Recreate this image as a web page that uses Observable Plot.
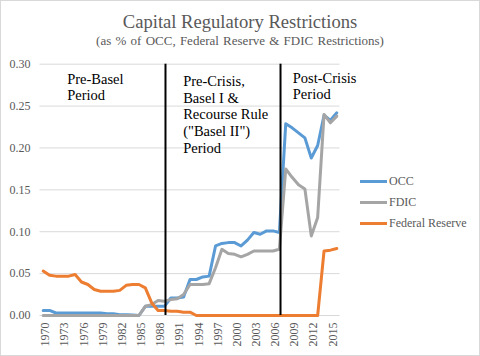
<!DOCTYPE html>
<html>
<head>
<meta charset="utf-8">
<script src="https://cdn.jsdelivr.net/npm/d3@7"></script>
<script src="https://cdn.jsdelivr.net/npm/@observablehq/plot@0.6"></script>
<style>
  body { margin: 0; background: #fff; }
  #wrap { position: relative; width: 480px; height: 356px; overflow: hidden; background: #fff;
          font-family: "Liberation Serif", "Times New Roman", serif; color: #595959; }
  #border { position: absolute; left: 0; top: 0; width: 480px; height: 356px; box-sizing: border-box;
            border: 1px solid #d9d9d9; pointer-events: none; }
  .ttl { position: absolute; left: 0; width: 480px; text-align: center; line-height: 1; white-space: nowrap; }
  #title { top: 12.7px; font-size: 18.6px; }
  #subtitle { top: 34.1px; font-size: 13px; word-spacing: 1px; }
  #chart { position: absolute; left: 0; top: 0; }
  .leg { position: absolute; left: 360px; height: 12px; }
  .leg .sw { position: absolute; left: 0; top: 4.5px; width: 27px; height: 3px; }
  .leg .lb { position: absolute; left: 29px; top: 0; font-size: 12px; line-height: 12px; white-space: nowrap; }
</style>
</head>
<body>
<div id="wrap">
  <div id="chart"></div>
  <div id="title" class="ttl">Capital Regulatory Restrictions</div>
  <div id="subtitle" class="ttl">(as % of OCC, Federal Reserve &amp; FDIC Restrictions)</div>
  <div id="legend"></div>
  <div id="border"></div>
</div>
<script>
const years = [1970,1971,1972,1973,1974,1975,1976,1977,1978,1979,
               1980,1981,1982,1983,1984,1985,1986,1987,1988,1989,
               1990,1991,1992,1993,1994,1995,1996,1997,1998,1999,
               2000,2001,2002,2003,2004,2005,2006,2007,2008,2009,
               2010,2011,2012,2013,2014,2015,2016];

const occ = [0.006,0.006,0.003,0.003,0.003,0.003,0.003,0.003,0.003,0.003,
             0.002,0.002,0.001,0.001,0.0005,0.000,0.011,0.011,0.011,0.011,
             0.021,0.021,0.022,0.043,0.043,0.046,0.047,0.083,0.086,0.087,
             0.087,0.083,0.090,0.099,0.097,0.101,0.101,0.099,0.229,0.224,
             0.218,0.212,0.188,0.203,0.239,0.233,0.242];

const fdic = [0,0,0,0,0,0,0,0,0,0,
              0,0,0,0,0,0,0.011,0.013,0.018,0.017,
              0.019,0.020,0.025,0.037,0.037,0.037,0.038,0.057,0.079,0.074,
              0.073,0.070,0.073,0.077,0.077,0.077,0.077,0.079,0.175,0.165,
              0.156,0.151,0.095,0.117,0.240,0.230,0.238];

const fed = [0.053,0.048,0.047,0.047,0.047,0.049,0.040,0.037,0.031,0.029,
             0.029,0.029,0.030,0.036,0.037,0.037,0.033,0.015,0.006,0.006,
             0.005,0.005,0.004,0.004,0,0,0,0,0,0,
             0,0,0,0,0,0,0,0,0,0,
             0,0,0,0,0.077,0.078,0.080];

const seriesNames = ["OCC", "FDIC", "Federal Reserve"];
const seriesColors = ["#5B9BD5", "#A5A5A5", "#ED7D31"];
const yTicks = [0, 0.05, 0.10, 0.15, 0.20, 0.25, 0.30];
const xTickLabels = [1970,1973,1976,1979,1982,1985,1988,1991,1994,1997,2000,2003,2006,2009,2012,2015];
const periodStarts = [1969.5, 1989.16, 2007.18];
const periodBounds = [1989.16, 2007.18];
const periodLabels = ["Pre-Basel\nPeriod",
                      "Pre-Crisis,\nBasel I &\nRecourse Rule\n(\"Basel II\")\nPeriod",
                      "Post-Crisis\nPeriod"];

const seriesValues = [occ, fdic, fed];
const rows = [];
seriesNames.forEach((name, s) => {
  years.forEach((yr, i) => rows.push({year: yr, value: seriesValues[s][i], series: name}));
});

const textFont = "Liberation Serif, Times New Roman, serif";
const plot = Plot.plot({
  width: 480,
  height: 356,
  marginTop: 63.7,
  marginBottom: 41,
  marginLeft: 39.5,
  marginRight: 140.5,
  style: {fontFamily: textFont, fontSize: "12px", color: "#595959", background: "transparent", overflow: "visible"},
  x: {type: "linear", domain: [years[0] - 0.5, years[years.length - 1] + 0.5]},
  y: {domain: [0, 0.30]},
  color: {domain: seriesNames, range: seriesColors},
  marks: [
    Plot.gridY(yTicks, {stroke: "#d9d9d9", strokeOpacity: 1, strokeWidth: 1}),
    Plot.axisY(yTicks, {tickSize: 0, tickPadding: 9.5, tickFormat: d3.format(".2f"), label: null, fill: "#595959"}),
    Plot.axisX(xTickLabels, {tickSize: 0, tickPadding: 7, tickRotate: -90, tickFormat: d => String(d), label: null, dx: 2.3, fill: "#595959"}),
    Plot.line(rows, {x: "year", y: "value", z: "series", stroke: "series", strokeWidth: 3,
                     strokeLinejoin: "round", strokeLinecap: "round"}),
    Plot.ruleX(periodBounds, {stroke: "#000", strokeWidth: 2}),
    Plot.text([periodLabels[0]], {x: periodStarts[0], frameAnchor: "top", text: d => d, textAnchor: "start", lineAnchor: "top",
               dx: 27.2, dy: 8.7, fontSize: 14.5, lineHeight: 1.08, fill: "#000"}),
    Plot.text([periodLabels[1]], {x: periodStarts[1], frameAnchor: "top", text: d => d, textAnchor: "start", lineAnchor: "top",
               dx: 17.7, dy: 10, fontSize: 14.5, lineHeight: 1.15, fill: "#000"}),
    Plot.text([periodLabels[2]], {x: periodStarts[2], frameAnchor: "top", text: d => d, textAnchor: "start", lineAnchor: "top",
               dx: 12.3, dy: 7.7, fontSize: 14.5, lineHeight: 1.08, fill: "#000"})
  ]
});
document.getElementById("chart").appendChild(plot);

// Legend
const legendTops = [175, 196.3, 217.3];
const legend = document.getElementById("legend");
seriesNames.forEach((name, i) => {
  const item = document.createElement("div");
  item.className = "leg";
  item.style.top = legendTops[i] + "px";
  const sw = document.createElement("div");
  sw.className = "sw";
  sw.style.background = seriesColors[i];
  const lb = document.createElement("div");
  lb.className = "lb";
  lb.textContent = name;
  item.appendChild(sw);
  item.appendChild(lb);
  legend.appendChild(item);
});
</script>
</body>
</html>
